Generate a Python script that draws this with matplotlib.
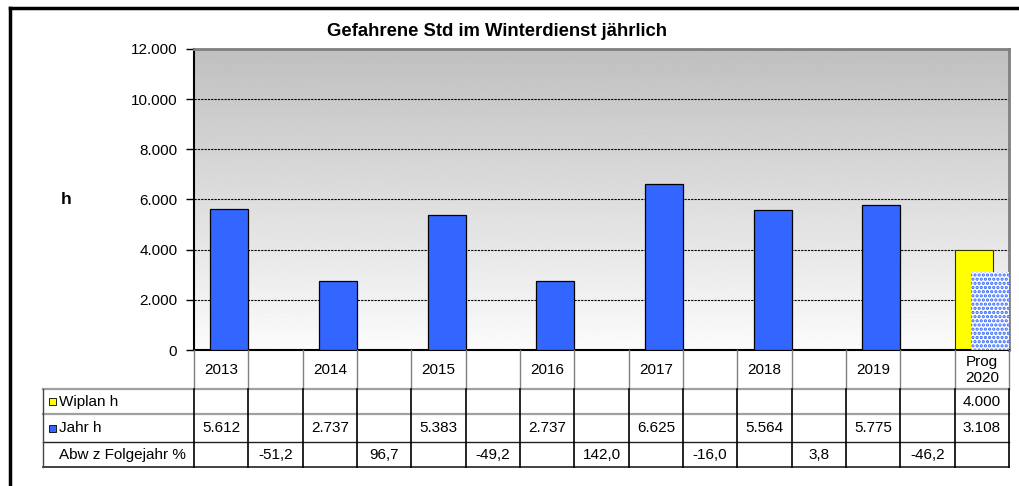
import matplotlib
matplotlib.use("Agg")
import matplotlib.pyplot as plt
import matplotlib.transforms as mtransforms
from matplotlib.lines import Line2D
from matplotlib.patches import Rectangle
import numpy as np

plt.rcParams['font.family'] = ['Liberation Sans', 'DejaVu Sans']

# ---- data ----
categories = ["2013", "", "2014", "", "2015", "", "2016", "", "2017", "",
              "2018", "", "2019", "", "Prog\n2020"]
jahr_h = [5612, None, 2737, None, 5383, None, 2737, None, 6625, None,
          5564, None, 5775, None, 3108]
wiplan_h = [None] * 14 + [4000]
abw_pct = [None, -51.2, None, 96.7, None, -49.2, None, 142.0, None, -16.0,
           None, 3.8, None, -46.2, None]
row_labels = ["Wiplan h", "Jahr h", "Abw z Folgejahr %"]
title = "Gefahrene Std im Winterdienst jährlich"
y_ticks = [0, 2000, 4000, 6000, 8000, 10000, 12000]

BLUE = "#3366FF"
YELLOW = "#FFFF00"

W, H = 1020, 486
fig = plt.figure(figsize=(W / 100, H / 100), dpi=100)
fig.patch.set_facecolor("white")


def fx(x):
    return x / W


def fy(y):
    return 1 - y / H


def de_int(v):
    return f"{v:,.0f}".replace(",", ".")


def de_dec(v):
    return f"{v:.1f}".replace(".", ",")


# outer frame (left and top edges)
fig.add_artist(Line2D([fx(10.5), fx(10.5)], [fy(8), 0], color="black", lw=2.5,
                      transform=fig.transFigure))
fig.add_artist(Line2D([fx(10.5), 1], [fy(8), fy(8)], color="black", lw=2.5,
                      transform=fig.transFigure))

# plot area
x0, x1, ytop, ybot = 194, 1009, 49, 350
ax = fig.add_axes([fx(x0), fy(ybot), (x1 - x0) / W, (ybot - ytop) / H])
n = len(categories)
ax.set_xlim(-0.5, n - 0.5)

# vertical grey gradient background: light at the bottom, grey at the top
grad = np.linspace(0.985, 0.75, 256).reshape(-1, 1)
ax.imshow(grad, cmap="gray", vmin=0, vmax=1, aspect="auto",
          extent=[-0.5, n - 0.5, 0, 12000], origin="lower", zorder=0)
ax.set_ylim(0, 12000)

for v in y_ticks[1:-1]:
    ax.axhline(v, color="black", lw=0.8, ls=(0, (2, 1)), zorder=1)

xs = np.arange(n)
bw, off = 0.70, 0.15
w_x = [x - off for x, v in zip(xs, wiplan_h) if v is not None]
w_v = [v for v in wiplan_h if v is not None]
ax.bar(w_x, w_v, width=bw, color=YELLOW, edgecolor="#333300", lw=0.8, zorder=2)

j_x = [x + off for x, v in zip(xs, jahr_h) if v is not None]
j_v = [v for v in jahr_h if v is not None]
ax.bar(j_x[:-1], j_v[:-1], width=bw, color=BLUE, edgecolor="black",
       lw=0.9, zorder=3)
plt.rcParams['hatch.linewidth'] = 1.6
ax.bar(j_x[-1:], j_v[-1:], width=bw, facecolor="white", edgecolor=BLUE,
       hatch="....", lw=0.0, zorder=3)

ax.set_xticks([])
ax.set_yticks(y_ticks)
ax.set_yticklabels([de_int(v) for v in y_ticks], fontsize=11)
ax.tick_params(axis="y", direction="out", length=6, width=1, pad=6)
for s in ["top", "right"]:
    ax.spines[s].set_color("#808080")
    ax.spines[s].set_linewidth(2)
ax.spines["left"].set_linewidth(1.5)
ax.spines["bottom"].set_linewidth(1.5)

fig.text(fx(497), fy(32), title, ha="center", va="center",
         fontsize=13.3, fontweight="bold")
fig.text(fx(66), fy(199), "h", ha="center", va="center",
         fontsize=12.5, fontweight="bold")

# ---- data table below the axis ----
bt = mtransforms.blended_transform_factory(ax.transData, fig.transFigure)
row_y = [350, 389, 414, 442, 467]
lab_x0 = 43

def hline(xa, xb, y, color, lw):
    fig.add_artist(Line2D([fx(xa), fx(xb)], [fy(y), fy(y)], color=color,
                          lw=lw, transform=fig.transFigure))

def vline_data(xd, ya, yb, color, lw):
    fig.add_artist(Line2D([xd, xd], [fy(ya), fy(yb)], color=color, lw=lw,
                          transform=bt))

# horizontal rules
hline(lab_x0, x1, row_y[1], "#a0a0a0", 1.6)
hline(lab_x0, x1, row_y[2], "#a0a0a0", 1.6)
hline(lab_x0, x1, row_y[3], "#222222", 1.0)
hline(lab_x0, x1, row_y[4], "#222222", 1.2)
# label column left edge
fig.add_artist(Line2D([fx(lab_x0), fx(lab_x0)], [fy(row_y[1]), fy(row_y[4])],
                      color="#444444", lw=1.0, transform=fig.transFigure))
# column separators
for i in range(n + 1):
    b = i - 0.5
    vline_data(b, row_y[0], row_y[1], "#808080", 1.0)
    vline_data(b, row_y[1], row_y[4], "black", 1.2)

# header (category labels)
for i, c in enumerate(categories):
    if c:
        fig.text(i, fy((row_y[0] + row_y[1]) / 2 + 0.5), c, transform=bt,
                 ha="center", va="center", fontsize=11, linespacing=1.2)

# row labels with legend keys
def row_mid(r):
    return fy((row_y[r + 1] + row_y[r + 2]) / 2)

for r, (lab, key) in enumerate(zip(row_labels, [YELLOW, BLUE, None])):
    if key is not None:
        fig.add_artist(Rectangle((fx(49), row_mid(r) - 3.5 / H), 7 / W, 7 / H,
                                 facecolor=key, edgecolor="black", lw=0.6,
                                 transform=fig.transFigure))
    fig.text(fx(59), row_mid(r), lab, ha="left", va="center", fontsize=11)

for i in range(n):
    if wiplan_h[i] is not None:
        fig.text(i, row_mid(0), de_int(wiplan_h[i]), transform=bt,
                 ha="center", va="center", fontsize=11)
    if jahr_h[i] is not None:
        fig.text(i, row_mid(1), de_int(jahr_h[i]), transform=bt,
                 ha="center", va="center", fontsize=11)
    if abw_pct[i] is not None:
        fig.text(i, row_mid(2), de_dec(abw_pct[i]), transform=bt,
                 ha="center", va="center", fontsize=11)

fig.savefig("out.png", dpi=100)
